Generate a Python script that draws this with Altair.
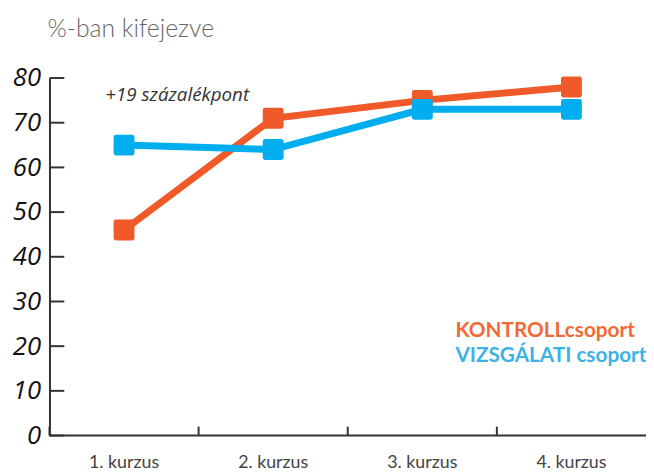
import altair as alt
import pandas as pd

courses = ["1. kurzus", "2. kurzus", "3. kurzus", "4. kurzus"]
kontroll = [46, 71, 75, 78]
vizsgalati = [65, 64, 73, 73]
y_ticks = [0, 10, 20, 30, 40, 50, 60, 70, 80]

ORANGE = "#F05A28"
BLUE = "#00AEEF"

rows = []
for c, v in zip(courses, kontroll):
    rows.append({"kurzus": c, "ertek": v, "csoport": "KONTROLL"})
for c, v in zip(courses, vizsgalati):
    rows.append({"kurzus": c, "ertek": v, "csoport": "VIZSGÁLATI"})
df = pd.DataFrame(rows)
ticks_df = pd.DataFrame({"t": y_ticks})
cat_df = pd.DataFrame({"kurzus": courses})

W, H = 604, 362

xs = alt.X("kurzus:N", sort=courses,
           scale=alt.Scale(domain=courses, paddingInner=0, paddingOuter=0),
           axis=alt.Axis(title=None, labelAngle=0, ticks=False, domain=False,
                         bandPosition=0.5, labelAlign="center",
                         labelFont="Lato", labelFontSize=18, labelColor="#444",
                         labelPadding=27))
ys = alt.Y("ertek:Q", scale=alt.Scale(domain=[0, 80], nice=False),
           axis=alt.Axis(title=None, values=y_ticks, ticks=False, grid=False,
                         domainColor="#333", domainWidth=2,
                         labelFont="Open Sans", labelFontStyle="italic",
                         labelFontSize=26, labelColor="#111", labelPadding=9))

color = alt.Color("csoport:N", scale=alt.Scale(domain=["KONTROLL", "VIZSGÁLATI"],
                                               range=[ORANGE, BLUE]), legend=None)

lines = alt.Chart(df).mark_line(strokeWidth=7).encode(x=xs, y=ys, color=color, detail="csoport:N")
points = alt.Chart(df).mark_point(shape="square", filled=True, size=260, strokeWidth=5,
                                  strokeJoin="round", opacity=1).encode(
    x=xs, y=ys, color=color, stroke=color)

ytick_rules = alt.Chart(ticks_df).mark_rule(color="#333", strokeWidth=2).encode(
    y=alt.Y("t:Q", scale=alt.Scale(domain=[0, 80], nice=False)),
    x=alt.value(0), x2=alt.value(15))

xtick_rules = alt.Chart(cat_df).mark_rule(color="#333", strokeWidth=2, xOffset=-W / 8).encode(
    x=alt.X("kurzus:N", sort=courses,
            scale=alt.Scale(domain=courses, paddingInner=0, paddingOuter=0)),
    y=alt.value(H - 9), y2=alt.value(H))

xaxis_line = alt.Chart(cat_df.head(1)).mark_rule(color="#333", strokeWidth=2).encode(
    x=alt.value(0), x2=alt.value(W), y=alt.value(H))

annot = alt.Chart(pd.DataFrame({"kurzus": ["1. kurzus"], "ertek": [76.2],
                                "txt": ["+19 százalékpont"]})).mark_text(
    align="left", baseline="middle", dx=-19, font="Open Sans", fontStyle="italic",
    fontSize=19, color="#333").encode(x=alt.X("kurzus:N", sort=courses), y="ertek:Q", text="txt:N")

leg_k = alt.Chart(pd.DataFrame({"txt": ["KONTROLLcsoport"]})).mark_text(
    align="left", baseline="middle", font="Lato", fontWeight="bold", fontSize=21,
    color="#F26A35").encode(x=alt.value(411), y=alt.value(256), text="txt:N")
leg_v = alt.Chart(pd.DataFrame({"txt": ["VIZSGÁLATI csoport"]})).mark_text(
    align="left", baseline="middle", font="Lato", fontWeight="bold", fontSize=21,
    color="#3CB2E6").encode(x=alt.value(411), y=alt.value(282), text="txt:N")

chart = alt.layer(xaxis_line, xtick_rules, ytick_rules, lines, points, annot, leg_k, leg_v).properties(
    width=W, height=H,
    title=alt.TitleParams("%-ban kifejezve", anchor="start", frame="group", dx=-2,
                          font="Lato", fontSize=25, fontWeight=300, color="#666", offset=24),
    padding={"left": 42, "top": 68, "right": 0, "bottom": 34},
    autosize=alt.AutoSizeParams(type="none"),
).configure_view(stroke=None).configure_axis(grid=False)

chart.save("out.html", embed_options={"renderer": "svg", "actions": False})
